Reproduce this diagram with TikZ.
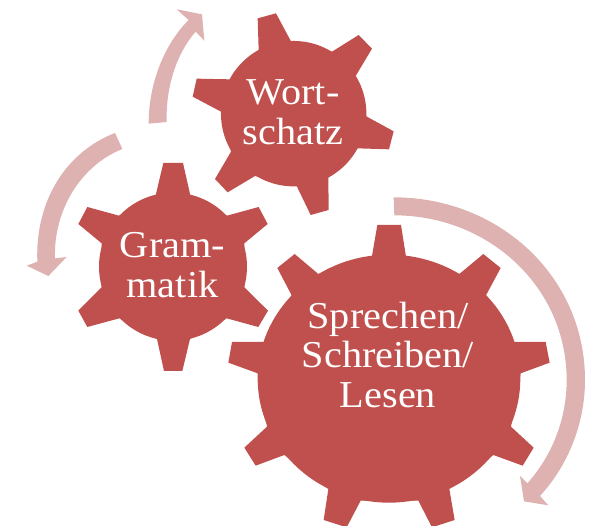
\documentclass[tikz,border=0pt]{standalone}
\usepackage{fontspec}
\setmainfont[FakeStretch=1.06]{Liberation Serif}
\definecolor{gearred}{HTML}{C0504D}
\definecolor{arrowpink}{HTML}{DDB2B1}
\tikzset{
  gearfill/.style={fill=gearred},
  arrowfill/.style={fill=arrowpink},
  gearlabel/.style={text=white,align=center,font=\fontsize{38}{39.5}\selectfont,inner sep=0pt},
}
\begin{document}
\begin{tikzpicture}[x=1pt,y=-1pt]
\useasboundingbox (0,0) rectangle (592,526);
\clip (0,0) rectangle (592,526);
% Wortschatz gear
\begin{scope}[shift={(200,0)},x=1/3*1pt,y=-1/3*1pt]
\fill[gearfill] (281,341) circle[radius=72.7pt];
\fill[gearfill] (176,150)--(173,55)--(228,40)--(273,124)--(396,155)--(476,105)--(516,146)--(467,228)--(499,349)--(581,394)--(567,448)--(472,445)--(385,532)--(386,630)--(332,645)--(290,558)--(165,528)--(83,577)--(45,537)--(93,455)--(63,335)--(-22,290)--(-10,236)--(90,238)--cycle;
\end{scope}
% Grammatik gear
\begin{scope}[x=1/3*1pt,y=-1/3*1pt]
\fill[gearfill] (519,800) circle[radius=74pt];
\fill[gearfill] (467,586)--(490,489)--(549,489)--(571,586)--(681,647)--(776,621)--(803,672)--(733,730)--(733,862)--(804,932)--(775,981)--(680,955)--(570,1017)--(547,1113)--(492,1113)--(471,1017)--(358,955)--(262,981)--(235,932)--(305,862)--(305,730)--(235,672)--(262,621)--(357,647)--cycle;
\end{scope}
% Speaking gear
\begin{scope}[shift={(220,190)},x=1/3*1pt,y=-1/3*1pt]
\fill[gearfill] (507,566) ellipse[x radius=131.3pt,y radius=124pt];
\fill[gearfill] (456,198)--(472,105)--(543,105)--(558,200)--(718,252)--(790,192)--(842,234)--(798,316)--(882,456)--(977,456)--(989,518)--(902,550)--(873,710)--(941,773)--(908,827)--(820,795)--(688,897)--(704,990)--(636,1012)--(595,932)--(422,932)--(380,1012)--(311,990)--(325,897)--(193,795)--(107,827)--(73,773)--(141,710)--(113,550)--(25,518)--(36,456)--(132,456)--(215,316)--(172,234)--(224,192)--(295,252)--cycle;
% big arrow
\fill[arrowfill] (521,22) .. controls (838,22) and (1095,260) .. (1095,570) .. controls (1095,700) and (1045,825) .. (960,918) -- (985,946) -- (912,934) -- (900,858) -- (922,880) .. controls (998,795) and (1040,685) .. (1040,570) .. controls (1040,290) and (805,76) .. (523,76) -- cycle;
\end{scope}
% upper and left arrows
\begin{scope}[x=1/3*1pt,y=-1/3*1pt]
\fill[arrowfill] (446,371) .. controls (446,240) and (500,125) .. (566,60) -- (530,28) -- (606,43) -- (613,122) -- (587,95) .. controls (530,160) and (497,260) .. (500,366) -- cycle;
\fill[arrowfill] (345,399) .. controls (200,455) and (105,600) .. (112,785) -- (80,797) -- (145,828) -- (200,771) -- (165,775) .. controls (160,640) and (235,500) .. (367,447) -- cycle;
\end{scope}
\node[gearlabel] (wort) at (293,112) {Wort-\\schatz};
\node[gearlabel] (gram) at (172.5,265) {Gram-\\matik};
\node[gearlabel] (spre) at (388,355) {Sprechen/\\Schreiben/\\Lesen};
\end{tikzpicture}
\end{document}
